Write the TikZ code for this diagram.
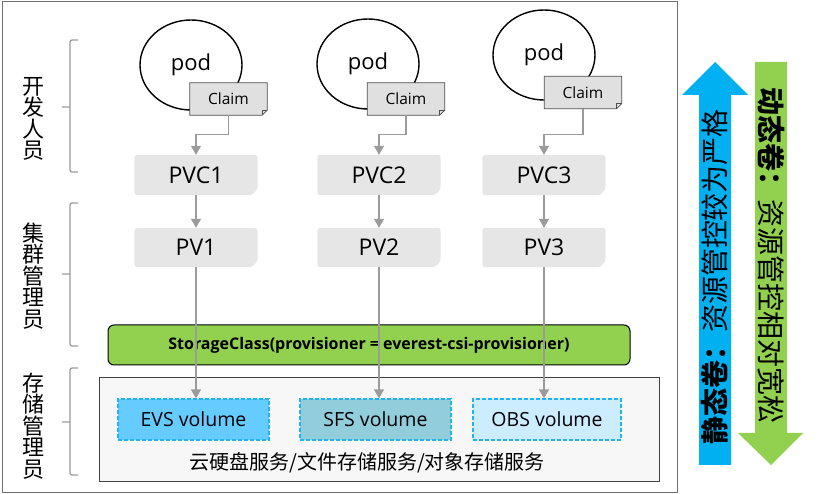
\documentclass[tikz,border=0pt]{standalone}
\usepackage{fontspec}
\setmainfont{Open Sans}
\newfontfamily\cjk{Noto Sans CJK SC}
\usepackage{tikz}
\usetikzlibrary{shapes.geometric,arrows.meta,positioning,backgrounds}
\definecolor{framegray}{RGB}{112,112,112}
\definecolor{boxgray}{RGB}{230,230,230}
\definecolor{claimgray}{RGB}{224,224,224}
\definecolor{linegray}{RGB}{155,155,155}
\definecolor{scgreen}{RGB}{146,208,80}
\definecolor{skyblue}{RGB}{0,176,240}
\definecolor{evsblue}{RGB}{102,204,255}
\definecolor{sfsblue}{RGB}{146,205,220}
\definecolor{obsblue}{RGB}{204,236,255}
\definecolor{dashblue}{RGB}{31,181,240}
\tikzstyle{flow} = [line width=1.3pt, linegray, -{Triangle[width=10pt,length=9pt]}]
\tikzset{
    pod/.style={
        ellipse, draw, line width=1.4pt,
        minimum width=102, minimum height=90,
        font=\fontsize{22}{22}\selectfont
    },
    claim/.style={
        minimum width=77, minimum height=32, inner sep=0pt,
        font=\fontsize{15.5}{15.5}\selectfont
    },
    pvbox/.style={
        minimum width=123, minimum height=40, inner sep=0pt,
        font=\fontsize{23}{23}\selectfont
    },
    volume/.style={
        minimum width=151, minimum height=41, inner sep=0pt,
        draw=dashblue, line width=1.2pt, dash pattern=on 4pt off 2pt,
        font=\fontsize{19.5}{19.5}\selectfont
    },
    role/.style={
        align=center, font=\cjk\fontsize{22}{21.5}\selectfont
    },
    brace/.style={
        line width=1.3pt, linegray, rounded corners=2pt
    },
    bartext/.style={
        font=\cjk\fontsize{28}{28}\selectfont
    }
}
\newcommand{\dogear}[3]{%
    \path[#3] (#1.north west) -- (#1.north east) -- ([yshift=#2pt]#1.south east)
        -- ([xshift=-#2pt]#1.south east) -- (#1.south west) -- cycle;}

\begin{document}
\begin{tikzpicture}[x=1pt,y=-1pt]
    \useasboundingbox (0,0) rectangle (820,494);
    \draw[framegray, line width=1pt] (2,2) rectangle (677,492);

    \node[role] (dev) at (33,119) {开\\发\\人\\员};
    \node[role] (ops) at (33,276) {集\\群\\管\\理\\员};
    \node[role] (sto) at (33,426) {存\\储\\管\\理\\员};
    \draw[brace] (78,40) -- (70,40) -- (70,172) -- (78,172) (70,107) -- (62,107);
    \draw[brace] (78,203) -- (70,203) -- (70,346) -- (78,346) (70,274) -- (62,274);
    \draw[brace] (78,368) -- (70,368) -- (70,475) -- (78,475) (70,422) -- (62,422);

    \node[claim] (c1) at (228.5,99) {Claim};
    \node[claim] (c2) at (406,99) {Claim};
    \node[claim] (c3) at (583,92.5) {Claim};
    \node[pvbox] (pvc1) at (196,175) {PVC1};
    \node[pvbox] (pvc2) at (379,175) {PVC2};
    \node[pvbox] (pvc3) at (544,175) {PVC3};
    \node[pvbox, minimum height=39] (pv1) at (196,247.5) {PV1};
    \node[pvbox, minimum height=39] (pv2) at (379,247.5) {PV2};
    \node[pvbox, minimum height=39] (pv3) at (544,247.5) {PV3};
    \begin{scope}[on background layer]
        \node[pod] (pod1) at (191,65) {pod};
        \node[pod] (pod2) at (368,64) {pod};
        \node[pod] (pod3) at (544,55) {pod};
        \dogear{c1}{5}{fill=claimgray, draw=black!70, line width=0.8pt}
        \dogear{c2}{5}{fill=claimgray, draw=black!70, line width=0.8pt}
        \dogear{c3}{5}{fill=claimgray, draw=black!70, line width=0.8pt}
        \dogear{pvc1}{6}{fill=boxgray, rounded corners=3pt}
        \dogear{pvc2}{6}{fill=boxgray, rounded corners=3pt}
        \dogear{pvc3}{6}{fill=boxgray, rounded corners=3pt}
        \dogear{pv1}{6}{fill=boxgray, rounded corners=3pt}
        \dogear{pv2}{6}{fill=boxgray, rounded corners=3pt}
        \dogear{pv3}{6}{fill=boxgray, rounded corners=3pt}
    \end{scope}
    \draw[black!70, line width=0.6pt] ([yshift=5pt]c1.south east) -- ([xshift=-5pt,yshift=5pt]c1.south east) -- ([xshift=-5pt]c1.south east);
    \draw[black!70, line width=0.6pt] ([yshift=5pt]c2.south east) -- ([xshift=-5pt,yshift=5pt]c2.south east) -- ([xshift=-5pt]c2.south east);
    \draw[black!70, line width=0.6pt] ([yshift=5pt]c3.south east) -- ([xshift=-5pt,yshift=5pt]c3.south east) -- ([xshift=-5pt]c3.south east);

    \node[rectangle, rounded corners=6pt, draw, line width=1pt, fill=scgreen,
        minimum width=522, minimum height=40,
        font=\bfseries\fontsize{16}{16}\selectfont] (sc) at (369,345)
        {StorageClass(provisioner = everest-csi-provisioner)};
    \node[rectangle, draw=black!75, line width=1pt, fill=black!3,
        minimum width=560, minimum height=103] (store) at (379,429.5) {};
    \node[volume, fill=evsblue] (evs) at (193.5,419.5) {EVS volume};
    \node[volume, fill=sfsblue] (sfs) at (375.5,419.5) {SFS volume};
    \node[volume, fill=obsblue, minimum width=148] (obs) at (547,419.5) {OBS volume};
    \node[font=\cjk\fontsize{20}{20}\selectfont] (svc) at (367,463) {云硬盘服务/文件存储服务/对象存储服务};

    \draw[flow] (c1.south) |- ([yshift=20pt]pvc1.north) -- (pvc1.north);
    \draw[flow] (c2.south) |- ([yshift=20pt]pvc2.north) -- (pvc2.north);
    \draw[flow] (c3.south) |- ([yshift=20pt]pvc3.north) -- (pvc3.north);
    \draw[flow] (pvc1) -- (pv1);
    \draw[flow] (pvc2) -- (pv2);
    \draw[flow] (pvc3) -- (pv3);
    \draw[flow] (pv1) -- (pv1.south |- evs.north);
    \draw[flow] (pv2) -- (pv2.south |- sfs.north);
    \draw[flow] (pv3) -- (pv3.south |- obs.north);

    \fill[skyblue] (699,465) -- (699,95) -- (682,95) -- (715,62) -- (748,95) -- (731,95) -- (731,465) -- cycle;
    \fill[scgreen] (755,62) -- (755,433) -- (738,433) -- (771,465) -- (803,433) -- (787,433) -- (787,62) -- cycle;
    \node[bartext, rotate=90] (static) at (715,277) {\textbf{静态卷：}资源管控较为严格};
    \node[bartext, rotate=-90] (dynamic) at (771,256) {\textbf{动态卷：}资源管控相对宽松};
\end{tikzpicture}
\end{document}
